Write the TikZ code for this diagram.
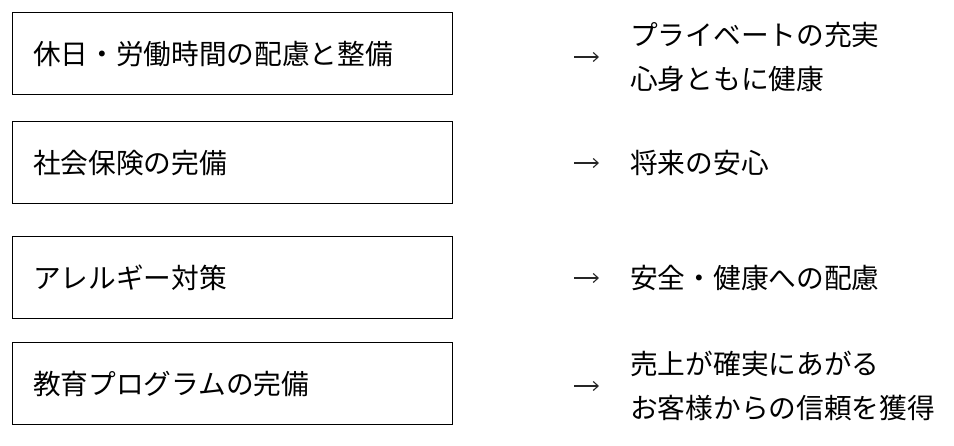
\documentclass[tikz,border=0pt]{standalone}
\usepackage{fontspec}
\setmainfont{Noto Sans CJK JP}
\usepackage{tikz}
\usetikzlibrary{positioning, arrows.meta}
\tikzset{
  block/.style={rectangle, draw=black, line width=1pt,
    minimum width=440pt, minimum height=82pt, text width=398pt,
    inner xsep=21pt, align=left, font=\fontsize{27.7}{44}\selectfont},
  result/.style={anchor=west, align=left, inner sep=0pt,
    font=\fontsize{27.7}{44}\selectfont},
  arrow/.style={-{Straight Barb[length=5pt, width=9pt]}, line width=1.1pt, color=black!85}
}
\begin{document}
\begin{tikzpicture}[x=1pt, y=-1pt]
  \useasboundingbox (0,0) rectangle (954,446);

  % Blocks
  \node[block] (rest)  at (232, 54)  {休日・労働時間の配慮と整備};
  \node[block] (insur) at (232, 163) {社会保険の完備};
  \node[block] (aller) at (232, 278) {アレルギー対策};
  \node[block] (edu)   at (232, 384) {教育プログラムの完備};

  % Results
  \node[result] (res1) at (630, 57)  {プライベートの充実\\心身ともに健康};
  \node[result] (res2) at (630, 163) {将来の安心};
  \node[result] (res3) at (630, 278) {安全・健康への配慮};
  \node[result] (res4) at (630, 386) {売上が確実にあがる\\お客様からの信頼を獲得};

  % Arrows
  \coordinate (a1) at (574, 57);  \coordinate (b1) at (599, 57);
  \coordinate (a2) at (574, 163); \coordinate (b2) at (599, 163);
  \coordinate (a3) at (574, 278); \coordinate (b3) at (599, 278);
  \coordinate (a4) at (574, 386); \coordinate (b4) at (599, 386);
  \draw[arrow] (a1) -- (b1);
  \draw[arrow] (a2) -- (b2);
  \draw[arrow] (a3) -- (b3);
  \draw[arrow] (a4) -- (b4);
\end{tikzpicture}
\end{document}
